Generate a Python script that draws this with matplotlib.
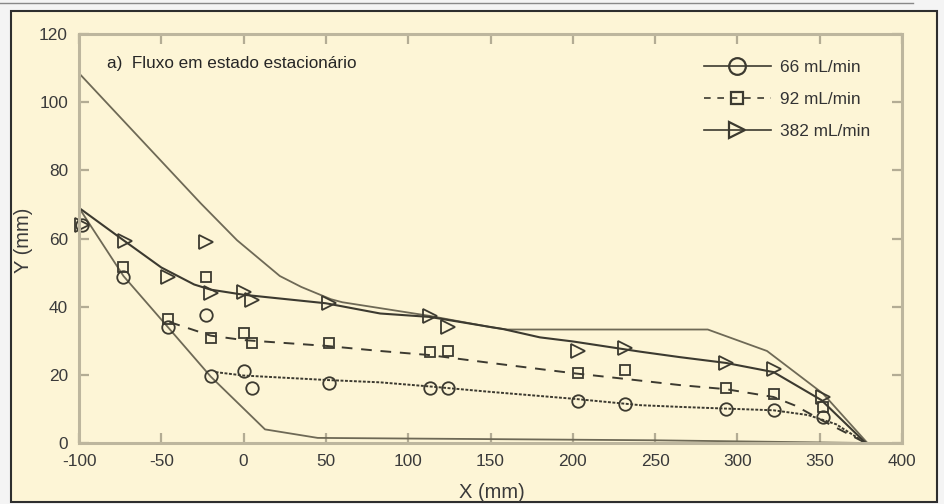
import matplotlib.pyplot as plt
from matplotlib.lines import Line2D
from matplotlib.patches import Rectangle

plt.rcParams['font.family'] = ['Liberation Sans', 'DejaVu Sans']
plt.rcParams['axes.unicode_minus'] = False

# measured front positions (x, y in mm) for each flow rate
x_66 = [-98, -73, -46, -23, -20, 0, 5, 52, 113, 124, 203, 232, 293, 322, 352]
y_66 = [64, 48.7, 34, 37.5, 19.6, 21.2, 16.1, 17.6, 16.1, 16.1, 12.4, 11.4, 9.9, 9.7, 7.5]

x_92 = [-73, -46, -23, -20, 0, 5, 52, 113, 124, 203, 232, 293, 322, 352]
y_92 = [51.6, 36.4, 48.8, 30.8, 32.3, 29.4, 29.2, 26.8, 27.1, 20.4, 21.4, 16, 14.5, 10.5]

x_382 = [-98, -72, -46, -23, -20, 0, 5, 52, 113, 124, 203, 232, 293, 322, 352]
y_382 = [63.9, 59.3, 48.6, 59, 43.9, 44.4, 42.1, 41.1, 37.2, 34.1, 27.1, 28, 23.5, 21.6, 13.4]

# fitted profiles
fit66_x = [-17, 0, 50, 83, 113, 150, 200, 241, 265, 293, 322, 343, 360, 378]
fit66_y = [20.8, 19.8, 18.5, 17.8, 16.6, 15.0, 13.0, 11.1, 10.6, 10.1, 9.6, 8.2, 5.5, 0]

fit92_x = [-45, -20, 0, 50, 83, 113, 150, 200, 232, 265, 293, 322, 335, 352, 378]
fit92_y = [35.5, 31.5, 30.2, 28.5, 27, 25.8, 23.5, 20.5, 18.8, 17, 15.8, 13.5, 11, 6.5, 0]

fit382_x = [-100, -73, -50, -30, -20, 0, 50, 83, 113, 158, 180, 200, 241, 265, 293, 322, 351, 378]
fit382_y = [69, 59.5, 51.5, 46.5, 45, 43.5, 41, 38, 37, 33.4, 31, 29.8, 26.8, 25.2, 23.5, 20.8, 12.6, 0]

# upper and lower bounding curves
upper_x = [-100, -26, -4, 22, 35, 53, 60, 113, 150, 160, 282, 318, 352, 379]
upper_y = [108.5, 70.3, 59.5, 49, 45.8, 42.2, 41.3, 37.3, 34, 33.3, 33.3, 27, 14.5, 0]
lower_x = [-100, -73, -46, -20, 13, 45, 250, 378]
lower_y = [69, 49, 34, 19.5, 4, 1.5, 0.8, 0]

labels = ['66 mL/min', '92 mL/min', '382 mL/min']
title = 'a)  Fluxo em estado estacionário'

bg = '#fdf5d6'
ink = '#3c3a30'
env = '#6e6956'

fig = plt.figure(figsize=(9.44, 5.04), dpi=100)
fig.patch.set_facecolor('#f4f4f4')
fig.add_artist(Line2D([0, 0.967], [0.994, 0.994], color='#888888', lw=1.0, zorder=-2))
fig.add_artist(Rectangle((0.012, 0.004), 0.981, 0.974, facecolor=bg,
                         edgecolor='#2e2e2e', lw=1.5, zorder=-2))

ax = fig.add_axes([0.0837, 0.121, 0.8718, 0.8115])
ax.set_facecolor(bg)

ax.plot(upper_x, upper_y, color=env, lw=1.3)
ax.plot(lower_x, lower_y, color=env, lw=1.3)

ax.plot(fit66_x, fit66_y, color=ink, lw=1.4, linestyle=(0, (1.5, 0.8)))
ax.plot(fit92_x, fit92_y, color=ink, lw=1.4, linestyle=(0, (5.5, 4.5)))
ax.plot(fit382_x, fit382_y, color=ink, lw=1.5)

ms = dict(linestyle='none', color=ink, markerfacecolor='none',
          markeredgewidth=1.3, clip_on=False)
ax.plot(x_66, y_66, marker='o', markersize=9, **ms)
ax.plot(x_92, y_92, marker='s', markersize=7, **ms)
ax.plot(x_382, y_382, marker='>', markersize=10, **ms)

ax.set_xlim(-100, 400)
ax.set_ylim(0, 120)
ax.set_xticks(range(-100, 401, 50))
ax.set_yticks(range(0, 121, 20))
ax.tick_params(direction='in', length=7, width=1.6, color='#b3ac94',
               top=True, right=True, labelsize=12.4, labelcolor='#3a3a3a', pad=8)
for s in ax.spines.values():
    s.set_color('#bdb69e')
    s.set_linewidth(2.2)

ax.set_xlabel('X (mm)', fontsize=14.5, color='#3a3a3a')
ax.set_ylabel('Y (mm)', fontsize=14.5, color='#3a3a3a')
ax.xaxis.set_label_coords(0.502, -0.098)
ax.yaxis.set_label_coords(-0.056, 0.496)

ax.text(0.034, 0.929, title, transform=ax.transAxes, fontsize=12.3,
        color='#262626', va='center')

handles = [
    Line2D([], [], color=ink, lw=1.2, marker='o', markersize=12,
           markerfacecolor='none', markeredgewidth=1.6),
    Line2D([], [], color=ink, lw=1.2, linestyle=(0, (4, 4)), marker='s',
           markersize=9, markerfacecolor='none', markeredgewidth=1.6),
    Line2D([], [], color=ink, lw=1.2, marker='>', markersize=12,
           markerfacecolor='none', markeredgewidth=1.6),
]
leg = ax.legend(handles, labels, loc='upper left', bbox_to_anchor=(0.74, 0.975),
                frameon=False, fontsize=12.4, handlelength=3.9, handletextpad=0.55,
                labelspacing=1.0)
for t in leg.get_texts():
    t.set_color('#333333')

fig.savefig('out.png', dpi=100, facecolor=fig.get_facecolor())
